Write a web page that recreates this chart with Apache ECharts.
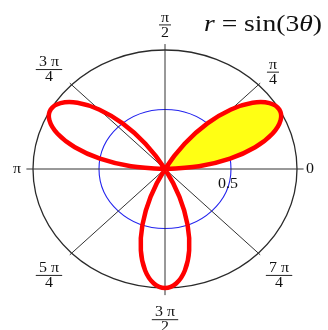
<!DOCTYPE html>
<html>
<head>
<meta charset="utf-8">
<script src="https://cdn.jsdelivr.net/npm/echarts@6/dist/echarts.min.js"></script>
<style>
  html, body { margin: 0; padding: 0; background: #ffffff; }
  #chart { width: 328px; height: 330px; }
</style>
</head>
<body>
<div id="chart"></div>
<script>
// Rose curve r = sin(3θ), tabulated every 5° over one full trace (0° to 180°)
const thetaDeg = [0, 5, 10, 15, 20, 25, 30, 35, 40, 45, 50, 55, 60,
                  65, 70, 75, 80, 85, 90, 95, 100, 105, 110, 115, 120,
                  125, 130, 135, 140, 145, 150, 155, 160, 165, 170, 175, 180];
const rValues = [0, 0.259, 0.5, 0.707, 0.866, 0.966, 1, 0.966, 0.866, 0.707, 0.5, 0.259, 0,
                 -0.259, -0.5, -0.707, -0.866, -0.966, -1, -0.966, -0.866, -0.707, -0.5, -0.259, 0,
                 0.259, 0.5, 0.707, 0.866, 0.966, 1, 0.966, 0.866, 0.707, 0.5, 0.259, 0];

// The petal traced for 0° ≤ θ ≤ 60° is shaded
const shadedThetaMax = 60;

// Polar grid: reference circles and angular spokes
const gridRadii = [1, 0.5];
const spokeAngles = [0, 45, 90, 135, 180, 225, 270, 315];
const angleTickLabels = ['0', 'π/4', 'π/2', '3 π/4', 'π', '5 π/4', '3 π/2', '7 π/4'];
const radialTickLabels = ['0.5'];

// Layout (data units): where each angle label sits, spoke lengths
const angleLabelAnchor = [[1.098, 0], [0.818, 0.818], [0, 1.215], [-0.879, 0.84],
                          [-1.121, 0], [-0.879, -0.89], [0, -1.262], [0.864, -0.89]];
const spokeLength = [1.05, 1.02, 1.05, 1.02, 1.05, 1.02, 1.06, 1.02];
const radialLabelAnchor = [[0.477, -0.126]];

const FONT = '"Liberation Serif", "DejaVu Serif", serif';
const TEXT_STRETCH = 1.1;

const toXY = (r, deg) => {
  const a = deg * Math.PI / 180;
  return [r * Math.cos(a), r * Math.sin(a)];
};
const curvePts = thetaDeg.map((t, i) => toXY(rValues[i], t));
const shadedPts = curvePts.filter((p, i) => thetaDeg[i] < shadedThetaMax);

const chart = echarts.init(document.getElementById('chart'), null, { renderer: 'canvas' });

chart.setOption({
  animation: false,
  backgroundColor: '#ffffff',
  grid: { left: 33, top: 50, width: 264, height: 238 },
  xAxis: { type: 'value', min: -1, max: 1, show: false },
  yAxis: { type: 'value', min: -1, max: 1, show: false },
  graphic: [{
    type: 'text',
    x: 204, y: 25,
    scaleX: 1.15,
    style: {
      text: '{i|r}{n| = sin(3}{i|θ}{n|)}',
      textVerticalAlign: 'middle',
      rich: {
        i: { font: 'italic 24px ' + FONT, fill: '#111' },
        n: { font: '24px ' + FONT, fill: '#111' }
      }
    }
  }],
  series: [
    {
      // reference circles (drawn as ellipses following the axis scales)
      type: 'custom',
      coordinateSystem: 'cartesian2d',
      clip: false,
      silent: true,
      data: gridRadii.map(r => [0, 0, r]),
      encode: { x: 0, y: 1 },
      renderItem: (params, api) => {
        const c = api.coord([0, 0]);
        const s = api.size([1, 1]);
        const r = api.value(2);
        const outer = r === 1;
        return {
          type: 'ellipse',
          shape: { cx: c[0], cy: c[1], rx: s[0] * r, ry: s[1] * r },
          style: { fill: null, stroke: outer ? '#2a2a2a' : '#2222ee', lineWidth: outer ? 1.3 : 1.1 }
        };
      }
    },
    {
      // angular spokes
      type: 'custom',
      coordinateSystem: 'cartesian2d',
      clip: false,
      silent: true,
      data: spokeAngles.map((a, i) => [0, 0, a, spokeLength[i]]),
      encode: { x: 0, y: 1 },
      renderItem: (params, api) => {
        const p0 = api.coord([0, 0]);
        const p1 = api.coord(toXY(api.value(3), api.value(2)));
        return {
          type: 'line',
          shape: { x1: p0[0], y1: p0[1], x2: p1[0], y2: p1[1] },
          style: { stroke: '#333333', lineWidth: 1 }
        };
      }
    },
    {
      // shaded petal
      type: 'custom',
      coordinateSystem: 'cartesian2d',
      clip: false,
      silent: true,
      data: [[0, 0]],
      renderItem: (params, api) => ({
        type: 'polygon',
        shape: { points: shadedPts.map(p => api.coord(p)), smooth: 0.33 },
        style: { fill: '#ffff14', stroke: null }
      })
    },
    {
      // the rose curve
      type: 'custom',
      coordinateSystem: 'cartesian2d',
      clip: false,
      silent: true,
      data: [[0, 0]],
      renderItem: (params, api) => ({
        type: 'polyline',
        shape: { points: curvePts.map(p => api.coord(p)), smooth: 0.33 },
        style: { fill: null, stroke: '#ff0000', lineWidth: 4.5, lineJoin: 'round', lineCap: 'round' }
      })
    },
    {
      // angle labels (fractions of π)
      type: 'custom',
      coordinateSystem: 'cartesian2d',
      clip: false,
      silent: true,
      data: angleTickLabels.map((t, i) => [angleLabelAnchor[i][0], angleLabelAnchor[i][1], i]),
      encode: { x: 0, y: 1 },
      renderItem: (params, api) => {
        const idx = api.value(2);
        const p = api.coord([api.value(0), api.value(1)]);
        const parts = angleTickLabels[idx].split('/');
        const font = '14.5px ' + FONT;
        if (parts.length === 1) {
          return {
            type: 'group', x: p[0], y: p[1], scaleX: TEXT_STRETCH,
            children: [{
              type: 'text',
              style: { text: parts[0], x: 0, y: 0, textAlign: 'center', textVerticalAlign: 'middle', font: font, fill: '#111' }
            }]
          };
        }
        const w = parts[0].length > 1 ? 24 : 11;
        return {
          type: 'group', x: p[0], y: p[1], scaleX: TEXT_STRETCH,
          children: [
            { type: 'text', style: { text: parts[0], x: 0, y: 1, textAlign: 'center', textVerticalAlign: 'bottom', font: font, fill: '#111' } },
            { type: 'line', shape: { x1: -w / 2, y1: 0.5, x2: w / 2, y2: 0.5 }, style: { stroke: '#222', lineWidth: 1 } },
            { type: 'text', style: { text: parts[1], x: 0, y: 1, textAlign: 'center', textVerticalAlign: 'top', font: font, fill: '#111' } }
          ]
        };
      }
    },
    {
      // radial tick label
      type: 'custom',
      coordinateSystem: 'cartesian2d',
      clip: false,
      silent: true,
      data: radialTickLabels.map((t, i) => [radialLabelAnchor[i][0], radialLabelAnchor[i][1], i]),
      encode: { x: 0, y: 1 },
      renderItem: (params, api) => {
        const p = api.coord([api.value(0), api.value(1)]);
        return {
          type: 'group', x: p[0], y: p[1], scaleX: TEXT_STRETCH,
          children: [{
            type: 'text',
            style: { text: radialTickLabels[api.value(2)], x: 0, y: 0, textAlign: 'center', textVerticalAlign: 'middle', font: '14.5px ' + FONT, fill: '#111' }
          }]
        };
      }
    }
  ]
});
</script>
</body>
</html>
